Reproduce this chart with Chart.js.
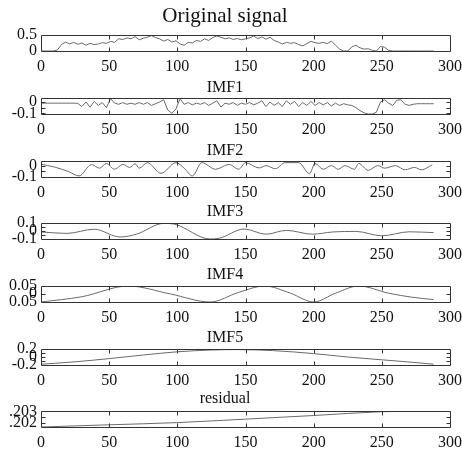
<!DOCTYPE html>
<html>
<head>
<meta charset="utf-8">
<script src="https://cdn.jsdelivr.net/npm/chart.js@4"></script>
<style>
  html, body { margin: 0; padding: 0; background: #fff; }
  #fig { position: relative; width: 462px; height: 451px; overflow: hidden; }
  #fig canvas { position: absolute; left: 0; }
</style>
</head>
<body>
<div id="fig"></div>
<script>
// x axis shared by every panel
const xTicks = [0, 50, 100, 150, 200, 250, 300];

// noisy series are sampled every 3 points (0..288)
const sampleStep = 3;

const origY = [
  0, 0, 0, 0, 0.03, 0.2, 0.28, 0.22, 0.27, 0.21,
  0.25, 0.18, 0.24, 0.2, 0.22, 0.26, 0.24, 0.3, 0.27, 0.38,
  0.36, 0.41, 0.38, 0.45, 0.35, 0.4, 0.43, 0.48, 0.42, 0.38,
  0.31, 0.36, 0.28, 0.32, 0.22, 0.18, 0.27, 0.25, 0.33, 0.3,
  0.38, 0.33, 0.42, 0.47, 0.43, 0.38, 0.41, 0.36, 0.39, 0.35,
  0.38, 0.41, 0.47, 0.39, 0.44, 0.37, 0.43, 0.33, 0.28, 0.22,
  0.27, 0.24, 0.26, 0.2, 0.16, 0.23, 0.3, 0.26, 0.24, 0.27,
  0.23, 0.31, 0.18, 0.06, 0, 0, 0.13, 0.18, 0.1, 0.06,
  0.07, 0.02, 0, 0.14, 0.12, 0.02, 0, 0, 0, 0,
  0, 0, 0, 0, 0, 0, 0
];

const imf1Y = [
  -0.01, -0.01, -0.01, -0.01, -0.01, -0.01, -0.01, -0.01, -0.01, -0.012,
  -0.04, 0.0, -0.045, 0.005, -0.03, -0.005, -0.05, 0.03, -0.01, -0.02,
  -0.005, -0.02, -0.01, -0.02, -0.005, -0.02, -0.005, -0.03, -0.015, 0.0,
  0.02, -0.07, -0.1, -0.06, 0.03, -0.02, -0.005, -0.025, -0.01, -0.02,
  -0.005, -0.03, -0.01, 0.01, -0.045, -0.01, -0.02, -0.005, -0.03, -0.01,
  -0.02, -0.005, -0.025, -0.01, 0.01, -0.04, 0.0, -0.03, -0.005, -0.04,
  0.01, -0.02, 0.005, -0.04, -0.005, -0.03, 0.005, -0.03, -0.005, -0.025,
  -0.005, -0.035, -0.01, -0.03, -0.015, -0.025, -0.03, -0.05, -0.075, -0.095,
  -0.105, -0.105, -0.09, 0.0, 0.02, -0.01, -0.03, 0.015, 0.02, -0.02,
  -0.03, -0.02, -0.015, -0.015, -0.015, -0.015, -0.015
];

// smoother modes: turning points
const imf2X = [0, 10, 20, 28, 37, 43, 48, 54, 60, 65, 69, 72, 78, 88, 99, 105, 111, 118, 128, 138, 145,
  150, 160, 165, 172, 179, 189, 197, 201, 207, 213, 218, 223, 230, 233, 240, 247, 252, 260, 267, 274, 279, 287];
const imf2Y = [0.016, -0.01, -0.05, -0.09, 0.012, -0.02, 0.023, -0.03, 0.014, -0.013, 0.02, -0.02, 0.03, -0.067,
  0.03, -0.02, -0.09, 0.03, -0.03, 0.014, -0.03, 0.03, -0.018, 0.003, -0.025, 0.03, 0.03, -0.07, 0.023, -0.03,
  0.003, -0.03, 0.003, -0.03, 0.023, -0.04, 0.003, -0.02, 0.003, -0.035, -0.013, -0.035, 0.01];

const imf3X = [0, 19, 39, 58, 70, 90, 98, 124, 131, 149, 165, 180, 199, 214, 231, 250, 270, 288];
const imf3Y = [-0.012, -0.03, 0.022, -0.075, -0.04, 0.095, 0.085, -0.1, -0.09, 0.025, -0.04, 0.008, -0.04,
  -0.012, -0.005, -0.06, -0.01, -0.02];

const imf4X = [0, 30, 64, 95, 124, 145, 164, 183, 200, 216, 233, 255, 272, 288];
const imf4Y = [-0.05, -0.017, 0.05, 0.0, -0.05, 0.01, 0.05, 0.005, -0.05, 0.005, 0.05, 0.005, -0.02, -0.035];

const imf5X = [0, 25, 50, 75, 100, 125, 145, 170, 200, 225, 250, 270, 288];
const imf5Y = [-0.18, -0.12, -0.04, 0.05, 0.13, 0.175, 0.185, 0.16, 0.085, 0.0, -0.07, -0.125, -0.18];

const resX = [0, 50, 100, 150, 200, 250, 288];
const resY = [0.20166, 0.20185, 0.20204, 0.20234, 0.20265, 0.20298, 0.20304];

// y ticks and the labels printed beside them
const origTicks = [0, 0.5];
const origLabels = ['0', '0.5'];
const imf1Ticks = [-0.1, -0.05, 0];
const imf1Labels = ['-0.1', '', '0'];
const imf2Ticks = [-0.1, -0.05, 0];
const imf2Labels = ['-0.1', '', '0'];
const imf3Ticks = [-0.1, -0.05, 0, 0.05, 0.1];
const imf3Labels = ['-0.1', '', '0', '', '0.1'];
const imf4Ticks = [-0.05, 0, 0.05];
const imf4Labels = ['0.05', '0', '0.05'];
const imf5Ticks = [-0.2, -0.1, 0, 0.1, 0.2];
const imf5Labels = ['-0.2', '', '0', '', '0.2'];
const resTicks = [0.202, 0.2025, 0.203];
const resLabels = ['.202', '', '.203'];

const serif = "'Liberation Serif', 'Times New Roman', serif";
const lineColor = '#6a6a6a';
const axisColor = '#333';

// box frame with inward tick marks, like a matlab axes
const boxTicks = {
  id: 'boxTicks',
  afterDatasetsDraw(chart) {
    const { ctx, chartArea: a, scales: { x, y } } = chart;
    const L = Math.round(a.left) + 0.5, R = Math.round(a.right) + 0.5;
    const T = Math.round(a.top) + 0.5, B = Math.round(a.bottom) + 0.5;
    ctx.save();
    ctx.strokeStyle = axisColor;
    ctx.lineWidth = 1;
    ctx.beginPath();
    x.ticks.forEach(t => {
      if (t.value <= x.min || t.value >= x.max) return;
      const px = Math.round(x.getPixelForValue(t.value)) + 0.5;
      ctx.moveTo(px, T); ctx.lineTo(px, T + 4);
      ctx.moveTo(px, B); ctx.lineTo(px, B - 4);
    });
    y.ticks.forEach(t => {
      if (t.value <= y.min || t.value >= y.max) return;
      const py = Math.round(y.getPixelForValue(t.value)) + 0.5;
      ctx.moveTo(L, py); ctx.lineTo(L + 4, py);
      ctx.moveTo(R, py); ctx.lineTo(R - 4, py);
    });
    ctx.rect(L, T, R - L, B - T);
    ctx.stroke();
    ctx.restore();
  }
};

function pts(xs, ys) {
  return ys.map((v, i) => ({ x: xs ? xs[i] : i * sampleStep, y: v }));
}

const panels = [
  { title: 'Original signal', fs: 21, mid: 17, top: 35, bottom: 51, data: pts(null, origY), smooth: false,
    min: 0, max: 0.5, ticks: origTicks, labels: origLabels },
  { title: 'IMF1', fs: 16, mid: 88, top: 98, bottom: 114, data: pts(null, imf1Y), smooth: false,
    min: -0.105, max: 0.035, ticks: imf1Ticks, labels: imf1Labels },
  { title: 'IMF2', fs: 16, mid: 151, top: 161, bottom: 177, data: pts(imf2X, imf2Y), smooth: true,
    min: -0.1, max: 0.045, ticks: imf2Ticks, labels: imf2Labels },
  { title: 'IMF3', fs: 16, mid: 212, top: 223, bottom: 239, data: pts(imf3X, imf3Y), smooth: true,
    min: -0.1, max: 0.1, ticks: imf3Ticks, labels: imf3Labels },
  { title: 'IMF4', fs: 16, mid: 275, top: 286, bottom: 302, data: pts(imf4X, imf4Y), smooth: true,
    min: -0.05, max: 0.05, ticks: imf4Ticks, labels: imf4Labels },
  { title: 'IMF5', fs: 16, mid: 338, top: 349, bottom: 365, data: pts(imf5X, imf5Y), smooth: true,
    min: -0.2, max: 0.2, ticks: imf5Ticks, labels: imf5Labels },
  { title: 'residual', fs: 16, mid: 399, top: 411, bottom: 427, data: pts(resX, resY), smooth: true,
    min: 0.20166, max: 0.20304, ticks: resTicks, labels: resLabels }
];

const fig = document.getElementById('fig');
const xAxisH = 26;

panels.forEach(p => {
  const cTop = Math.round(p.mid - p.fs * 0.6);
  const titlePad = p.top - cTop - p.fs * 1.2;
  const h = p.bottom - cTop + xAxisH;
  const cv = document.createElement('canvas');
  cv.width = 470;
  cv.height = h;
  cv.style.top = cTop + 'px';
  fig.appendChild(cv);

  new Chart(cv, {
    type: 'line',
    data: {
      datasets: [{
        data: p.data,
        borderColor: lineColor,
        borderWidth: 1,
        pointRadius: 0,
        fill: false,
        cubicInterpolationMode: p.smooth ? 'monotone' : 'default',
        tension: 0
      }]
    },
    options: {
      responsive: false,
      animation: false,
      events: [],
      layout: { padding: { left: 0, right: 20, top: 0, bottom: 0 } },
      plugins: {
        legend: { display: false },
        tooltip: { enabled: false },
        title: {
          display: true,
          text: p.title,
          color: '#111',
          font: { family: serif, size: p.fs, weight: 'normal' },
          padding: { top: 0, bottom: titlePad }
        }
      },
      scales: {
        x: {
          type: 'linear',
          min: 0,
          max: 300,
          afterBuildTicks: s => { s.ticks = xTicks.map(v => ({ value: v })); },
          afterFit: s => { s.height = xAxisH; },
          grid: { display: false, drawTicks: false },
          border: { display: false },
          ticks: {
            autoSkip: false, maxRotation: 0, minRotation: 0, padding: 6,
            color: '#111', font: { family: serif, size: 16 }
          }
        },
        y: {
          type: 'linear',
          min: p.min,
          max: p.max,
          afterBuildTicks: s => { s.ticks = p.ticks.map(v => ({ value: v })); },
          afterFit: s => { s.width = 41; },
          grid: { display: false, drawTicks: false },
          border: { display: false },
          ticks: {
            autoSkip: false, padding: 4,
            color: '#111', font: { family: serif, size: 16 },
            callback: (v, i) => p.labels[i]
          }
        }
      }
    },
    plugins: [boxTicks]
  });
});
</script>
</body>
</html>
